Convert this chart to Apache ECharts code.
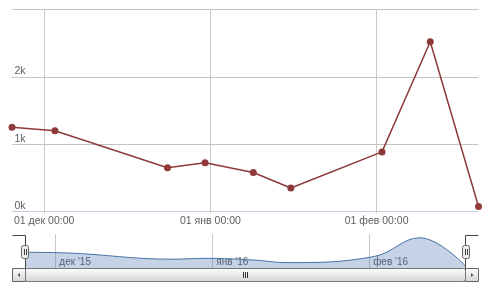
<!DOCTYPE html>
<html><head><meta charset="utf-8">
<script src="https://cdn.jsdelivr.net/npm/echarts@6/dist/echarts.min.js"></script>
<style>html,body{margin:0;padding:0;background:#fff}#c{width:500px;height:293px}</style>
</head><body><div id="c"></div>
<script>
// ---- data ----
const dates = ['2015-11-25','2015-12-03','2015-12-24','2015-12-31','2016-01-09','2016-01-16','2016-02-02','2016-02-11','2016-02-20'];
const values = [1250, 1200, 650, 725, 580, 350, 885, 2520, 75];
const tickDates = ['2015-12-01', '2016-01-01', '2016-02-01'];
const monthNames = ['янв','фев','мар','апр','май','июн','июл','авг','сен','окт','ноя','дек'];
const yMin = 0, yMax = 3000, yStep = 1000;

// ---- helpers ----
const ts = d => { const p = d.split('-').map(Number); return Date.UTC(p[0], p[1]-1, p[2]); };
const xs = dates.map(ts);
const ticks = tickDates.map(ts);
const seriesData = xs.map((x, i) => [x, values[i]]);
const pad = n => String(n).padStart(2, '0');
const mainFmt = v => { const d = new Date(v); return pad(d.getUTCDate()) + ' ' + monthNames[d.getUTCMonth()] + ' ' + pad(d.getUTCHours()) + ':' + pad(d.getUTCMinutes()); };
const navFmt = v => { const d = new Date(v); return monthNames[d.getUTCMonth()] + " '" + String(d.getUTCFullYear()).slice(2); };
const xMin = xs[0], xMax = xs[xs.length - 1];

const FONT = 'Liberation Sans';
const chart = echarts.init(document.getElementById('c'), null, {renderer: 'canvas'});

const grad = new echarts.graphic.LinearGradient(0, 0, 0, 1, [{offset: 0, color: '#ffffff'}, {offset: 1, color: '#d4d4d4'}]);

chart.setOption({
  animation: false,
  backgroundColor: '#fff',
  grid: [
    {left: 12, right: 21.5, top: 9.5, height: 202},
    {left: 25, right: 34.7, top: 234, height: 34}
  ],
  xAxis: [
    {
      type: 'value', gridIndex: 0, min: xMin, max: xMax,
      axisLine: {show: true, lineStyle: {color: '#C0D0E0', width: 1}},
      axisTick: {show: true, length: 2, customValues: ticks, lineStyle: {color: '#c8c8c8'}},
      splitLine: {show: true, lineStyle: {color: '#c8c8c8', width: 1}},
      axisLabel: {customValues: ticks, formatter: mainFmt, margin: 4, color: '#606060', fontFamily: FONT, fontSize: 10.5}
    },
    {
      type: 'value', gridIndex: 1, min: xMin, max: xMax,
      axisLine: {show: false}, axisTick: {show: false, customValues: ticks},
      splitLine: {show: true, lineStyle: {color: '#c8c8c8', width: 1}},
      axisLabel: {customValues: ticks, formatter: navFmt, inside: true, margin: 1, align: 'left', padding: [0, 0, 0, 4], color: '#606060', fontFamily: FONT, fontSize: 10}
    }
  ],
  yAxis: [
    {
      type: 'value', gridIndex: 0, min: yMin, max: yMax, interval: yStep,
      axisLine: {show: false}, axisTick: {show: false},
      splitLine: {show: true, lineStyle: {color: '#c4c4c4', width: 1}},
      axisLabel: {inside: true, margin: 2.5, verticalAlign: 'bottom', lineHeight: 11,
        formatter: v => v >= yMax ? '' : (v / 1000) + 'k', color: '#606060', fontFamily: FONT, fontSize: 10.5}
    },
    {
      type: 'value', gridIndex: 1, min: -120, max: 2850,
      show: false, splitLine: {show: false}
    }
  ],
  series: [
    {
      type: 'line', xAxisIndex: 0, yAxisIndex: 0, data: seriesData,
      symbol: 'circle', symbolSize: 7,
      lineStyle: {color: '#8e3a3a', width: 1.5},
      itemStyle: {color: '#8e3a3a'}
    },
    {
      type: 'line', xAxisIndex: 1, yAxisIndex: 1, data: seriesData,
      smooth: 0.4, symbol: 'none',
      lineStyle: {color: '#4572A7', width: 1},
      areaStyle: {color: 'rgba(60,105,175,0.42)', origin: 'start'}
    }
  ],
  graphic: [
    // outline
    {type: 'polyline', shape: {points: [[12.5, 235.5], [25.5, 235.5], [25.5, 281.5]]}, style: {stroke: '#444', lineWidth: 1, fill: null}, z: 10},
    {type: 'polyline', shape: {points: [[465.5, 281.5], [465.5, 235.5], [478.5, 235.5]]}, style: {stroke: '#444', lineWidth: 1, fill: null}, z: 10},
    // scrollbar buttons
    {type: 'rect', shape: {x: 12.5, y: 268.5, width: 13, height: 13}, style: {fill: grad, stroke: '#666', lineWidth: 1}, z: 11},
    {type: 'polygon', shape: {points: [[17.5, 275], [20, 273], [20, 277]]}, style: {fill: '#555'}, z: 12},
    {type: 'rect', shape: {x: 465.5, y: 268.5, width: 13, height: 13}, style: {fill: grad, stroke: '#666', lineWidth: 1}, z: 11},
    {type: 'polygon', shape: {points: [[473.5, 275], [471, 273], [471, 277]]}, style: {fill: '#555'}, z: 12},
    // scrollbar bar
    {type: 'rect', shape: {x: 25.5, y: 268.5, width: 440, height: 13, r: 2}, style: {fill: grad, stroke: '#777', lineWidth: 1}, z: 11},
    {type: 'polyline', shape: {points: [[243.5, 272], [243.5, 278]]}, style: {stroke: '#333', lineWidth: 1}, z: 12},
    {type: 'polyline', shape: {points: [[245.5, 272], [245.5, 278]]}, style: {stroke: '#333', lineWidth: 1}, z: 12},
    {type: 'polyline', shape: {points: [[247.5, 272], [247.5, 278]]}, style: {stroke: '#333', lineWidth: 1}, z: 12},
    // handles
    {type: 'rect', shape: {x: 21.5, y: 245.5, width: 7, height: 13, r: 2}, style: {fill: '#ebebeb', stroke: '#666', lineWidth: 1}, z: 13},
    {type: 'polyline', shape: {points: [[24.5, 249], [24.5, 255]]}, style: {stroke: '#444', lineWidth: 1}, z: 14},
    {type: 'polyline', shape: {points: [[26.5, 249], [26.5, 255]]}, style: {stroke: '#444', lineWidth: 1}, z: 14},
    {type: 'rect', shape: {x: 462.5, y: 245.5, width: 7, height: 13, r: 2}, style: {fill: '#ebebeb', stroke: '#666', lineWidth: 1}, z: 13},
    {type: 'polyline', shape: {points: [[465.5, 249], [465.5, 255]]}, style: {stroke: '#444', lineWidth: 1}, z: 14},
    {type: 'polyline', shape: {points: [[467.5, 249], [467.5, 255]]}, style: {stroke: '#444', lineWidth: 1}, z: 14}
  ]
});
</script>
</body></html>
